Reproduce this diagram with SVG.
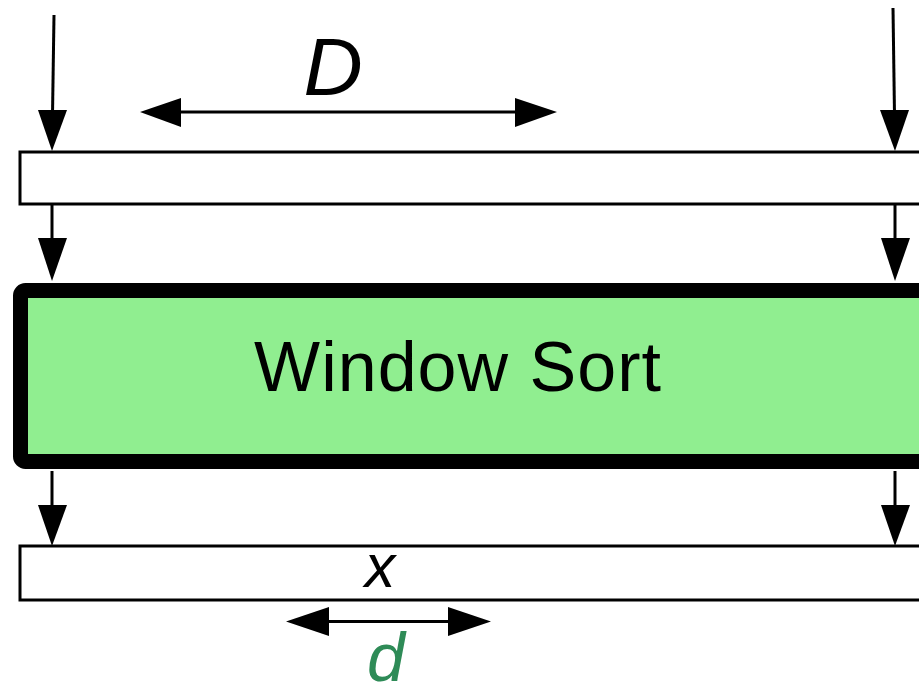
<svg xmlns="http://www.w3.org/2000/svg" width="919" height="687" viewBox="0 0 919 687">
  <defs>
    <style>
      .bar { fill: #ffffff; stroke: #000000; stroke-width: 3; }
      .sorter { fill: #90ee90; stroke: #000000; stroke-width: 15; }
      .wire { stroke: #000000; stroke-width: 3; fill: none; }
      .dim { stroke: #000000; stroke-width: 3; fill: none; }
      .head { fill: #000000; }
      .label { font-family: "Liberation Sans", Arial, sans-serif; fill: #000000; }
      .math { font-family: "Liberation Sans", Arial, sans-serif; font-style: italic; }
    </style>
  </defs>

  <!-- input buffer -->
  <g id="input-buffer">
    <rect class="bar" x="20" y="152" width="920" height="52"/>
  </g>

  <!-- window sort stage -->
  <g id="window-sort">
    <rect class="sorter" x="20.5" y="290.5" width="930" height="171" rx="5"/>
    <text class="label" x="458" y="391" font-size="70" text-anchor="middle" letter-spacing="1">Window Sort</text>
  </g>

  <!-- output buffer -->
  <g id="output-buffer">
    <rect class="bar" x="20" y="546" width="920" height="54"/>
    <text class="math" x="380" y="587" font-size="61" text-anchor="middle">x</text>
  </g>

  <!-- span labels -->
  <g id="label-D">
    <text class="math" x="333" y="95" font-size="82" text-anchor="middle">D</text>
  </g>
  <g id="label-d">
    <text class="math" x="386" y="681" font-size="68" text-anchor="middle" fill="#2e8b57">d</text>
  </g>

  <!-- connectors -->
  <g id="connectors">
    <!-- left column -->
    <line class="wire" x1="54" y1="15" x2="52.5" y2="115"/>
    <polygon class="head" points="38,110 67,110 52,151"/>
    <line class="wire" x1="52" y1="205" x2="52" y2="242"/>
    <polygon class="head" points="38,238 67,238 52,281"/>
    <line class="wire" x1="52" y1="471" x2="52" y2="508"/>
    <polygon class="head" points="38,505 67,505 52,546"/>

    <!-- right column -->
    <line class="wire" x1="893" y1="8" x2="894.5" y2="115"/>
    <polygon class="head" points="880,110 909,110 895,151"/>
    <line class="wire" x1="895" y1="205" x2="895" y2="242"/>
    <polygon class="head" points="881,238 910,238 895,281"/>
    <line class="wire" x1="895" y1="471" x2="895" y2="508"/>
    <polygon class="head" points="881,505 910,505 895,546"/>

    <!-- span D -->
    <line class="dim" x1="175" y1="112" x2="520" y2="112"/>
    <polygon class="head" points="140,112 181,98 181,127"/>
    <polygon class="head" points="557,112 515,98 515,127"/>

    <!-- span d -->
    <line class="dim" x1="320" y1="621.5" x2="455" y2="621.5"/>
    <polygon class="head" points="286,621.5 329,607 329,636"/>
    <polygon class="head" points="491,621.5 448,607 448,636"/>
  </g>
</svg>
